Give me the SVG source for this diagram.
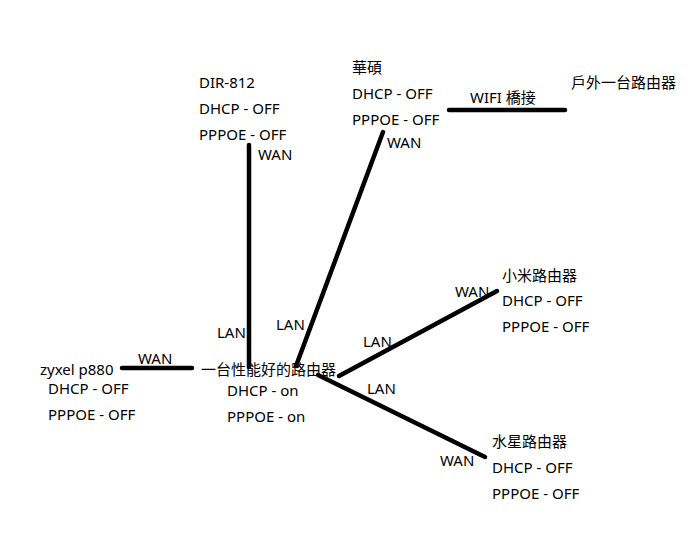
<svg xmlns="http://www.w3.org/2000/svg" width="694" height="534" viewBox="0 0 694 534">
<style>
text{font-family:"Noto Sans","Noto Sans CJK SC",sans-serif;font-size:15px;fill:#000}
.ln{stroke:#000;stroke-width:4.5;stroke-linecap:round;fill:none}
</style>
<rect width="694" height="534" fill="#fff"/>
<g id="connectors">
<line class="ln" x1="249" y1="145" x2="249" y2="367"/>
<line class="ln" x1="383" y1="132" x2="296" y2="366"/>
<line class="ln" x1="449" y1="110" x2="565" y2="110"/>
<line class="ln" x1="122" y1="368" x2="192" y2="368"/>
<line class="ln" x1="339" y1="376" x2="497" y2="291"/>
<line class="ln" x1="318" y1="375" x2="485" y2="457"/>
<text x="258" y="160">WAN</text>
<text x="387" y="148">WAN</text>
<text x="470" y="103">WIFI 橋接</text>
<text x="138" y="364">WAN</text>
<text x="455" y="297">WAN</text>
<text x="440" y="466">WAN</text>
<text x="217" y="338">LAN</text>
<text x="276" y="330">LAN</text>
<text x="363" y="347">LAN</text>
<text x="367" y="394">LAN</text>
</g>
<g id="dir812">
<text x="199" y="88">DIR-812</text>
<text x="199" y="114">DHCP - OFF</text>
<text x="199" y="140">PPPOE - OFF</text>
</g>
<g id="asus">
<text x="352" y="73">華碩</text>
<text x="352" y="99">DHCP - OFF</text>
<text x="352" y="125">PPPOE - OFF</text>
</g>
<g id="outdoor">
<text x="571" y="88">戶外一台路由器</text>
</g>
<g id="xiaomi">
<text x="502" y="281">小米路由器</text>
<text x="502" y="306">DHCP - OFF</text>
<text x="502" y="332">PPPOE - OFF</text>
</g>
<g id="zyxel">
<text x="40" y="375">zyxel p880</text>
<text x="48" y="394">DHCP - OFF</text>
<text x="48" y="420">PPPOE - OFF</text>
</g>
<g id="main">
<text x="201" y="375">一台性能好的路由器</text>
<text x="227" y="396">DHCP - on</text>
<text x="227" y="422">PPPOE - on</text>
</g>
<g id="mercury">
<text x="492" y="447">水星路由器</text>
<text x="492" y="473">DHCP - OFF</text>
<text x="492" y="499">PPPOE - OFF</text>
</g>
</svg>
